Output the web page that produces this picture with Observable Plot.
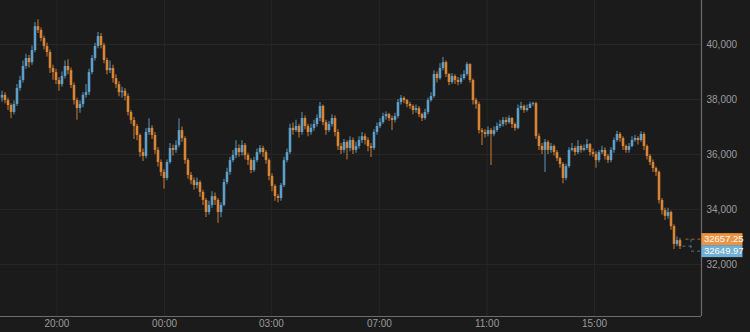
<!DOCTYPE html>
<html><head><meta charset="utf-8">
<script src="https://cdn.jsdelivr.net/npm/d3@7"></script>
<script src="https://cdn.jsdelivr.net/npm/@observablehq/plot@0.6"></script>
<style>
html,body{margin:0;padding:0;background:#1b1b1b;overflow:hidden;}
</style></head><body><div id="chart"></div>
<script>
const opens=[38050,38150,37960,37780,37530,37820,38400,38690,39200,39490,
39340,39780,40650,40510,40220,39930,39710,39130,38980,38690,
38540,38840,39200,39050,38510,37960,37670,37820,38150,38250,
38980,39490,39930,40290,39960,39420,39050,39130,38760,38540,
38250,38300,38110,37530,37240,37020,36690,36070,35930,36800,
36950,36690,36150,35710,35350,35130,35710,36220,36150,36330,
36870,36580,35780,35240,35050,34870,34980,34620,34330,33890,
34150,34470,34330,33890,34150,34980,35350,35780,35960,36220,
36070,36330,35960,35780,35420,35780,36070,36220,36070,35780,
35200,34840,34470,34400,34870,35780,36070,36950,36870,37020,
36800,37310,37020,36800,36950,37090,37310,37750,37160,36870,
37090,37310,36800,36290,36150,36440,36220,36510,36150,36290,
36510,36650,36510,36290,36220,36800,37020,37160,37380,37450,
37310,37240,37380,37890,38040,37960,37820,37750,37600,37670,
37450,37310,37530,37960,38110,38910,38760,39130,39340,38910,
38620,38840,38690,38620,38760,38910,39270,38690,37960,37820,
36870,36800,36730,36870,36730,36870,37020,37090,37240,37160,
37310,37090,36950,37670,37750,37600,37670,37820,37850,36650,
36290,36150,36440,36150,36290,36070,35850,35640,35130,35560,
36150,36220,36070,36290,36150,36220,36360,36070,36000,35780,
36070,36150,35930,35780,36150,36510,36730,36580,36290,36150,
36290,36510,36580,36510,36730,36290,35930,35710,35490,35350,
34330,33960,33750,33890,33380,32730,32870];
const closes=[38150,37960,37780,37530,37820,38400,38690,39200,39490,39340,
39780,40650,40510,40220,39930,39710,39130,38980,38690,38540,
38840,39200,39050,38510,37960,37670,37820,38150,38250,38980,
39490,39930,40290,39960,39420,39050,39130,38760,38540,38250,
38300,38110,37530,37240,37020,36690,36070,35930,36800,36950,
36690,36150,35710,35350,35130,35710,36220,36150,36330,36870,
36580,35780,35240,35050,34870,34980,34620,34330,33890,34150,
34470,34330,33890,34150,34980,35350,35780,35960,36220,36070,
36330,35960,35780,35420,35780,36070,36220,36070,35780,35200,
34840,34470,34400,34870,35780,36070,36950,36870,37020,36800,
37310,37020,36800,36950,37090,37310,37750,37160,36870,37090,
37310,36800,36290,36150,36440,36220,36510,36150,36290,36510,
36650,36510,36290,36220,36800,37020,37160,37380,37450,37310,
37240,37380,37890,38040,37960,37820,37750,37600,37670,37450,
37310,37530,37960,38110,38910,38760,39130,39340,38910,38620,
38840,38690,38620,38760,38910,39270,38690,37960,37820,36870,
36800,36730,36870,36730,36870,37020,37090,37240,37160,37310,
37090,36950,37670,37750,37600,37670,37820,37850,36650,36290,
36150,36440,36150,36290,36070,35850,35640,35130,35560,36150,
36220,36070,36290,36150,36220,36360,36070,36000,35780,36070,
36150,35930,35780,36150,36510,36730,36580,36290,36150,36290,
36510,36580,36510,36730,36290,35930,35710,35490,35350,34330,
33960,33750,33890,33380,32730,32870,32649.97];
const highs=[38300,38250,38050,37850,37950,38550,38850,39400,39650,39600,
39950,40800,40900,40600,40300,40050,39800,39250,39100,38800,
39000,39400,39450,39150,38600,38050,37950,38250,38550,39100,
39600,40050,40440,40400,40050,39500,39400,39250,38900,38650,
38450,38400,38200,37600,37350,37100,36750,36200,36950,37300,
37050,36800,36250,35800,35450,35800,36400,36350,36500,37300,
37000,36650,35850,35350,35150,35150,35050,34700,34400,34300,
34650,34600,34400,34250,35100,35500,35900,36150,36500,36350,
36500,36400,36050,35850,35900,36200,36330,36300,36150,35850,
35300,34900,34550,34950,35900,36200,37100,37150,37250,37100,
37530,37400,37100,37100,37250,37450,37890,37800,37250,37200,
37450,37400,36900,36400,36550,36500,36650,36600,36450,36650,
36800,36750,36600,36400,36900,37150,37300,37500,37550,37500,
37400,37500,38000,38150,38100,38000,37900,37800,37800,37750,
37500,37650,38050,38250,39050,39000,39300,39530,39400,38950,
38950,38900,38800,38900,39050,39350,39300,38750,38050,37900,
36950,36900,37000,36950,37000,37150,37250,37350,37350,37400,
37350,37150,37800,37900,37800,37800,37900,37900,37900,36750,
36400,36550,36500,36400,36350,36150,35900,35700,35650,36250,
36400,36300,36500,36350,36350,36550,36400,36200,36100,36150,
36300,36250,36000,36250,36600,36850,36800,36650,36350,36400,
36650,36700,36650,36830,36800,36350,36000,35800,35550,35400,
34400,34050,34050,33950,33450,33000,32950];
const lows=[37900,37850,37600,37300,37450,37750,38300,38600,39100,39150,
39250,39700,40400,40100,39800,39550,38950,38700,38550,38300,
38450,38750,38900,38400,37800,37250,37500,37700,38050,38150,
38900,39400,39850,39850,39300,38900,38950,38600,38400,38100,
38050,37950,37400,37100,36550,36500,35900,35750,35850,36700,
36550,36000,35550,35200,34750,35050,35650,35950,36050,36250,
36450,35650,35100,34900,34700,34750,34450,34150,33710,33800,
34050,34150,33500,33700,34100,34900,35250,35700,35850,35900,
35950,35800,35600,35300,35350,35700,36000,35900,35650,35050,
34650,34300,34250,34300,34800,35700,36000,36700,36800,36600,
36700,36900,36650,36700,36850,37000,37200,37050,36700,36800,
37000,36650,36150,36000,36050,35800,36100,36000,36050,36200,
36400,36350,36100,35890,36150,36700,36950,37100,37250,37200,
36870,37150,37300,37800,37850,37700,37650,37450,37500,37350,
37200,37250,37450,37900,38050,38600,38700,39050,38800,38500,
38550,38550,38500,38550,38700,38850,38600,37800,37650,36750,
36330,36600,36650,35600,36650,36800,36950,37000,37050,37100,
36950,36850,36900,37600,37500,37550,37700,37750,36550,36150,
36000,35350,36000,36050,35950,35750,35500,34940,35050,35500,
36100,35950,36000,36050,36100,36150,35950,35900,35500,35700,
36000,35800,35670,35700,36050,36450,36450,36150,36050,36050,
36250,36450,36350,36450,36150,35800,35600,35350,35200,34200,
33800,33600,33650,33250,32550,32650,32550];
const timeTickLabels=["20:00","00:00","03:00","07:00","11:00","15:00"];
const timeTickIndex=[18.3,54.2,89.8,125.8,161.7,197.5];
const priceTicks=[32000,34000,36000,38000,40000];
const lastPrices=[
  {label:"32657.25", value:32657.25, series:"orange"},
  {label:"32649.97", value:32649.97, series:"blue"}
];

const UP="#62a7d3", DOWN="#e68c37";
const candles=closes.map((c,i)=>({i, open:opens[i], close:c, high:highs[i], low:lows[i]}));
const xDomain=[-0.5,233.17];
const yDomain=[30110,41600];
const col=d=>d.close>=d.open?UP:DOWN;

const plot=Plot.plot({
  width:750, height:332,
  marginTop:0, marginLeft:0, marginRight:49, marginBottom:16,
  style:{background:"#1b1b1b", color:"#9c9c9c", fontFamily:"'Liberation Sans', Arial, sans-serif", fontSize:"10px"},
  x:{domain:xDomain, axis:null, label:null},
  y:{domain:yDomain, axis:null, label:null},
  marks:[
    Plot.ruleY(priceTicks,{stroke:"#262626"}),
    Plot.ruleX(timeTickIndex,{stroke:"#262626"}),
    Plot.ruleX(candles,{x:"i", y1:"low", y2:"high", stroke:col, strokeOpacity:0.55, strokeWidth:1.6}),
    Plot.ruleX(candles,{x:"i", y1:"open", y2:"close", stroke:col, strokeOpacity:0.9, strokeWidth:2.6}),
    Plot.axisY({anchor:"right", ticks:priceTicks, tickFormat:d3.format(","), tickSize:0, tickPadding:5, fill:"#9c9c9c", label:null}),
    Plot.axisX({ticks:timeTickIndex, tickFormat:d=>timeTickLabels[timeTickIndex.indexOf(d)], tickSize:0, tickPadding:3, fill:"#9c9c9c", label:null}),
    Plot.ruleY([yDomain[0]],{stroke:"#6c6c6c", strokeWidth:1.2}),
    Plot.ruleX([xDomain[1]],{stroke:"#6c6c6c", strokeWidth:1.2})
  ]
});
document.getElementById("chart").appendChild(plot);

// last-price labels, placed with Plot's own scales
const sx=plot.scale("x"), sy=plot.scale("y");
const svg=d3.select(plot);
const xr=sx.apply(xDomain[1]);
const xl=sx.apply(candles.length-1);
const yP=sy.apply(lastPrices[1].value);
const g=svg.append("g").attr("text-anchor","start");
const yO=yP-7, yB=yP+5;
const dash="3,3";
g.append("line").attr("x1",xl+3).attr("x2",xr-10).attr("y1",yP).attr("y2",yP).attr("stroke","#4d7893").attr("stroke-dasharray",dash);
g.append("line").attr("x1",xl+6).attr("x2",xr).attr("y1",yO).attr("y2",yO).attr("stroke","#a8692c").attr("stroke-dasharray",dash);
g.append("line").attr("x1",xr-10).attr("x2",xr-10).attr("y1",yO).attr("y2",yB).attr("stroke","#4d7893").attr("stroke-dasharray",dash);
g.append("line").attr("x1",xr-10).attr("x2",xr).attr("y1",yB).attr("y2",yB).attr("stroke","#4d7893").attr("stroke-dasharray",dash);
const boxes=[{d:lastPrices[0], y:yP-13, h:12, fill:"#ea9444"},{d:lastPrices[1], y:yP-1, h:12, fill:"#6fb0d8"}];
boxes.forEach(b=>{
  g.append("rect").attr("x",xr+0.5).attr("y",b.y).attr("width",41).attr("height",b.h).attr("fill",b.fill);
  g.append("text").attr("x",xr+3).attr("y",b.y+b.h/2).attr("dy","0.35em").attr("fill","#fff8ee")
   .attr("text-anchor","start").attr("font-size","9.5px").attr("font-family","'Liberation Sans', Arial, sans-serif").text(b.d.label);
});
</script></body></html>
